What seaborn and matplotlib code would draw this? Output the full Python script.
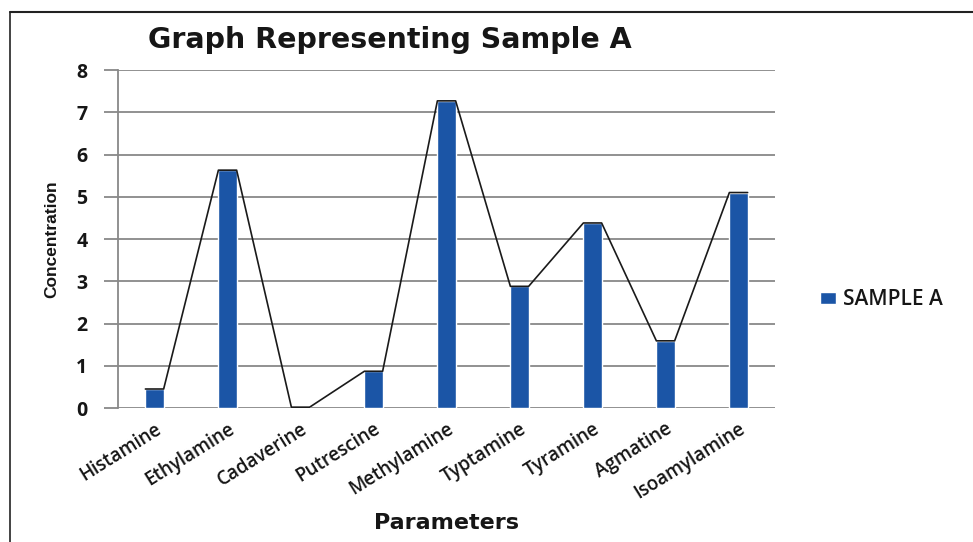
import matplotlib
matplotlib.use("Agg")
import matplotlib.pyplot as plt
import seaborn as sns
import pandas as pd
from matplotlib.lines import Line2D

# данные графика
parameters = ['Histamine', 'Ethylamine', 'Cadaverine', 'Putrescine', 'Methylamine',
              'Typtamine', 'Tyramine', 'Agmatine', 'Isoamylamine']
sample_a = [0.45, 5.63, 0.02, 0.87, 7.27, 2.88, 4.38, 1.59, 5.1]
y_ticks = [0, 1, 2, 3, 4, 5, 6, 7, 8]

df = pd.DataFrame({'Parameters': parameters, 'Concentration': sample_a})

sns.set_style('white')
plt.rcParams['font.family'] = ['Open Sans', 'DejaVu Sans']
txt = '#161616'

fig = plt.figure(figsize=(9.73, 5.42), dpi=100)
ax = fig.add_axes([0.1213, 0.2472, 0.6752, 0.6236])

bar_color = '#1b55a6'
sns.barplot(data=df, x='Parameters', y='Concentration', color=bar_color,
            width=0.25, saturation=1, ax=ax, label='SAMPLE A')

# линия по верхним углам столбиков
xs, ys = [], []
for p in ax.patches:
    xs += [p.get_x(), p.get_x() + p.get_width()]
    ys += [p.get_height(), p.get_height()]
ax.plot(xs, ys, color='#1a1a1a', lw=1.2, zorder=3)

ax.set_ylim(0, 8)
ax.set_xlim(-0.5, len(parameters) - 0.5)
ax.set_yticks(y_ticks)
ax.set_yticklabels([str(t) for t in y_ticks], fontweight='bold', fontsize=14,
                   color=txt)
ax.yaxis.grid(True, color='#888888', lw=1.3)
ax.set_axisbelow(True)
for s in ['top', 'right', 'bottom']:
    ax.spines[s].set_visible(False)
ax.spines['left'].set_color('#888888')
ax.spines['left'].set_linewidth(1.3)
ax.tick_params(axis='y', length=10, width=1.3, color='#888888', pad=12, left=True)
ax.tick_params(axis='x', length=0, pad=8)
ax.set_xticks(range(len(parameters)))
ax.set_xticklabels(parameters, rotation=32, ha='right', rotation_mode='anchor',
                   fontsize=13.5, fontweight='semibold', color=txt)

ax.set_ylabel('Concentration', fontsize=12.5, fontweight='bold', color=txt,
              family=['Liberation Sans', 'DejaVu Sans'], labelpad=12)
ax.set_xlabel('Parameters', fontsize=16, fontweight='bold', color=txt,
              family=['DejaVu Sans'])
ax.xaxis.set_label_coords(0.5, -0.31)
ax.set_title('Graph Representing Sample A', fontsize=20.5, fontweight='bold',
             color=txt, family=['DejaVu Sans'], loc='left', x=0.045, y=1.04)

leg = ax.legend(handles=[ax.patches[0]], labels=['SAMPLE A'], loc='center left',
                bbox_to_anchor=(1.04, 0.32), frameon=False,
                prop={'family': 'Open Sans', 'size': 15, 'weight': 'semibold'},
                handlelength=0.75, handleheight=0.5, handletextpad=0.35)
for t in leg.get_texts():
    t.set_color(txt)

# рамка слева и сверху
fig.add_artist(Line2D([0.0105, 0.0105], [0, 0.978], color='#222222', lw=1.2))
fig.add_artist(Line2D([0.0105, 1.0], [0.978, 0.978], color='#222222', lw=1.5))

fig.savefig('out.png', dpi=100)
